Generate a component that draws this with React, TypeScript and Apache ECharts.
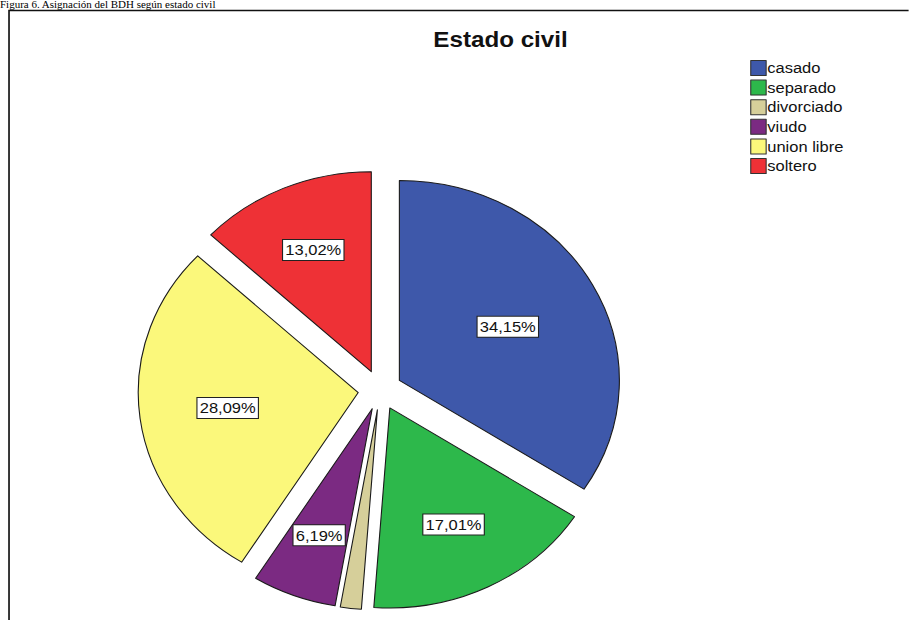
import React, { useEffect, useRef } from "react";
import * as echarts from "echarts";

const categories = ["casado", "separado", "divorciado", "viudo", "union libre", "soltero"];
const percentages = [34.15, 17.01, 1.54, 6.19, 28.09, 13.02];
const colors = ["#3e58aa", "#2db84b", "#d6cf9a", "#7b2a82", "#fbf87b", "#ee3136"];
const showLabel = [true, true, false, true, true, true];
const chartTitle = "Estado civil";
const caption = "Figura 6. Asignación del BDH según estado civil";

const STRETCH = 1.1;
const W = Math.round(909 / STRETCH);
const PIE_CX = 345.5;
const PIE_CY = 390;
const PIE_R = 200;

export default function App() {
  const ref = useRef<HTMLDivElement>(null);
  useEffect(() => {
    if (!ref.current) return;
    const chart = echarts.init(ref.current, null, { renderer: "svg" });
    const font = "'Liberation Sans', Arial, sans-serif";
    const total = percentages.reduce((a, b) => a + b, 0);
    chart.setOption({
      animation: false,
      backgroundColor: "#ffffff",
      title: {
        text: chartTitle,
        left: 450,
        top: 23,
        textAlign: "center",
        textStyle: { fontFamily: font, fontSize: 22, fontWeight: "bold", color: "#111" },
      },
      legend: {
        orient: "vertical",
        left: 677,
        top: 55,
        itemWidth: 14,
        itemHeight: 15,
        itemGap: 3.6,
        icon: "rect",
        selectedMode: false,
        data: categories,
        itemStyle: { borderColor: "#333", borderWidth: 1 },
        textStyle: { fontFamily: font, fontSize: 15, lineHeight: 15, color: "#111", padding: [0, 0, 0, -4] },
      },
      graphic: [
        {
          type: "text",
          left: 0,
          top: 0,
          style: { text: caption, fontFamily: "'Liberation Serif', 'Times New Roman', serif", fontSize: 10, fill: "#000" },
        },
        {
          type: "polyline",
          shape: { points: [[8.2, 640], [8.2, 10.5], [900, 10.5]] },
          style: { stroke: "#111", lineWidth: 1.5, fill: "none" },
        },
      ],
      series: [
        {
          type: "pie",
          center: [PIE_CX, PIE_CY],
          radius: [0, PIE_R],
          startAngle: 90,
          clockwise: true,
          selectedMode: "multiple",
          selectedOffset: 20,
          avoidLabelOverlap: false,
          itemStyle: { borderColor: "#1a1a1a", borderWidth: 1 },
          select: { itemStyle: { borderColor: "#1a1a1a", borderWidth: 1 } },
          emphasis: { disabled: true },
          label: {
            position: "inside",
            formatter: (p: any) => p.value.toFixed(2).replace(".", ",") + "%",
            fontFamily: font,
            fontSize: 15,
            color: "#111",
            backgroundColor: "#ffffff",
            borderColor: "#222",
            borderWidth: 1,
            padding: [3, 2, 2, 2],
          },
          labelLayout: (params: any) => {
            const i = params.dataIndex;
            const half = (percentages[i] / total) * Math.PI;
            const d = (2 * PIE_R * Math.sin(half)) / (3 * half);
            const lr = params.labelRect;
            const cx = lr.x + lr.width / 2;
            const cy = lr.y + lr.height / 2;
            const vx = cx - PIE_CX;
            const vy = cy - PIE_CY;
            const len = Math.hypot(vx, vy) || 1;
            const delta = d - PIE_R / 2;
            return { dx: (vx / len) * delta, dy: (vy / len) * delta };
          },
          labelLine: { show: false },
          data: categories.map((c, i) => ({
            name: c,
            value: percentages[i],
            selected: true,
            itemStyle: { color: colors[i] },
            label: { show: showLabel[i] },
          })),
        },
      ],
    });
    return () => chart.dispose();
  }, []);
  return (
    <div
      ref={ref}
      style={{
        position: "fixed",
        left: 0,
        top: 0,
        width: W,
        height: 620,
        transform: `scaleX(${STRETCH})`,
        transformOrigin: "0 0",
      }}
    />
  );
}
